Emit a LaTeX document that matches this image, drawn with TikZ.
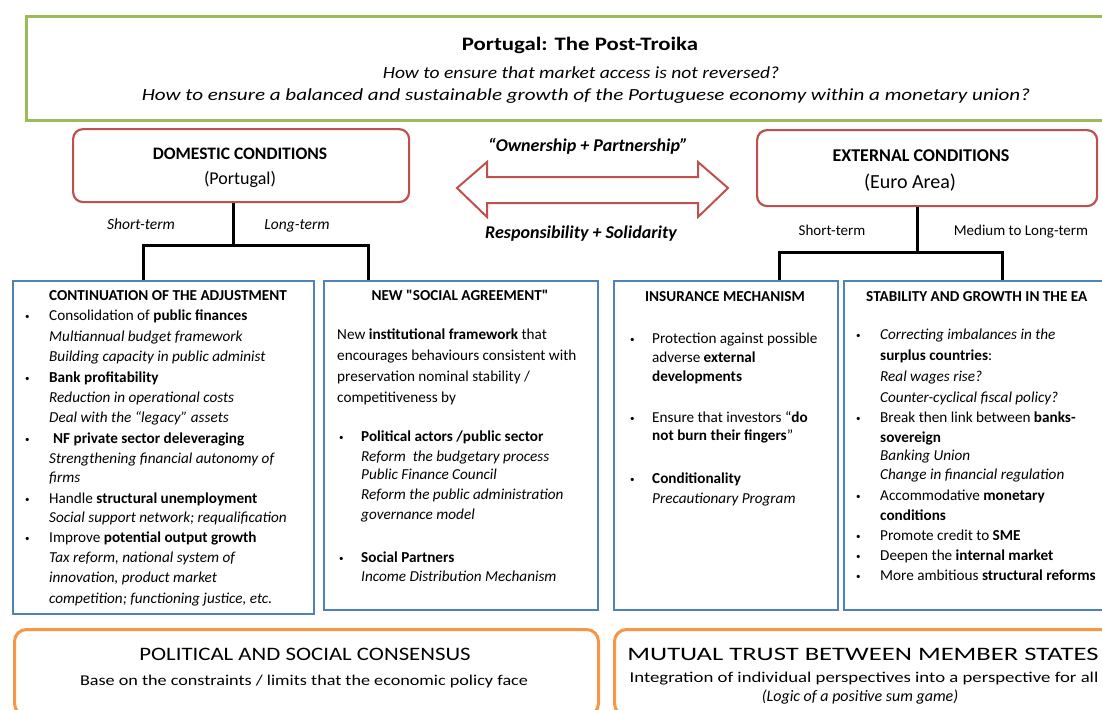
\documentclass[tikz,border=0pt]{standalone}
\usepackage{fontspec}
\setmainfont{Carlito}
\definecolor{cgreen}{HTML}{9BBB59}
\definecolor{cred}{HTML}{C0504D}
\definecolor{cblue}{HTML}{4F81BD}
\definecolor{corange}{HTML}{F79646}
\newcommand\mybul[1][24pt]{\makebox[#1][l]{\raisebox{0.5pt}{\small•}}}
\newcommand\hstretch[2]{\scalebox{#1}[1]{#2}}
\newcommand\straightq{{\addfontfeatures{Ligatures=TeXOff}\char34}}
\begin{document}
\begin{tikzpicture}[x=1pt,y=-1pt,
  greenbox/.style={draw=cgreen, line width=3pt, anchor=north west, inner sep=0},
  redbox/.style={draw=cred, line width=2.2pt, rounded corners=10pt, anchor=north west, inner sep=0},
  bluebox/.style={draw=cblue, line width=2.2pt, anchor=north west, inner sep=0},
  orangebox/.style={draw=corange, line width=3pt, rounded corners=12pt, anchor=north west, inner sep=0},
  conn/.style={draw=black, line width=3pt},
  tl/.style={anchor=base west, inner sep=0, font=\fontsize{15.2}{17}\selectfont},
  tc/.style={anchor=base, inner sep=0, font=\fontsize{15.2}{17}\selectfont},
  bigarrow/.style={draw=cred, line width=2pt, fill=white, line join=miter}
]
\useasboundingbox (0,0) rectangle (1102,709);
\clip (0,0) rectangle (1102,709);

% ---- boxes
\node[greenbox, minimum width=1090pt, minimum height=104pt] (top) at (25,15) {};
\node[redbox, minimum width=336pt, minimum height=73pt] (dom) at (72,128) {};
\node[redbox, minimum width=340pt, minimum height=76pt] (ext) at (756,129) {};
\node[bluebox, minimum width=301pt, minimum height=333pt] (b1) at (12,280) {};
\node[bluebox, minimum width=274pt, minimum height=329pt] (b2) at (323,280) {};
\node[bluebox, minimum width=224pt, minimum height=329pt] (b3) at (613,280) {};
\node[bluebox, minimum width=280pt, minimum height=329pt] (b4) at (843,280) {};
\node[orangebox, minimum width=584pt, minimum height=86pt] (o1) at (13,628) {};
\node[orangebox, minimum width=510pt, minimum height=86pt] (o2) at (613,628) {};

% ---- connectors
\coordinate (dj) at (233,245); \coordinate (dl) at (143,245); \coordinate (dr) at (368,245);
\draw[conn] (dom.south -| dj) -- (dj);
\draw[conn] (b1.north -| dl) -- (dl) -- (dr) -- (b2.north -| dr);
\coordinate (ej) at (917,252); \coordinate (el) at (779,252); \coordinate (er) at (1002,252);
\draw[conn] (ext.south -| ej) -- (ej);
\draw[conn] (b3.north -| el) -- (el) -- (er) -- (b4.north -| er);

% ---- double arrow
\draw[bigarrow] (457,188) -- (487,162) -- (487,177) -- (698,177) -- (698,162) -- (728,188)
  -- (698,217) -- (698,203) -- (487,203) -- (487,217) -- cycle;

% ---- top texts
\node[tc, font=\fontsize{19}{20}\selectfont\bfseries] (t1) at (580,51) {\hstretch{1.2}{Portugal: The Post-Troika}};
\node[tc, font=\fontsize{17}{20}\selectfont\itshape] (t2) at (581,78) {\hstretch{1.15}{How to ensure that market access is not reversed?}};
\node[tc, font=\fontsize{17}{20}\selectfont\itshape] (t3) at (586,100) {\hstretch{1.24}{How to ensure a balanced and sustainable growth of the Portuguese economy within a monetary union?}};

\node[tc, font=\fontsize{17.5}{18}\selectfont\bfseries] (d1) at (240,159) {DOMESTIC CONDITIONS};
\node[tc, font=\fontsize{18}{18}\selectfont] (d2) at (240,184) {(Portugal)};
\node[tc, font=\fontsize{18}{18}\selectfont\bfseries] (e1) at (921,161) {EXTERNAL CONDITIONS};
\node[tc, font=\fontsize{20}{20}\selectfont] (e2) at (910,188) {(Euro Area)};

\node[tc, font=\fontsize{15.5}{16}\selectfont\itshape] (s1) at (141,229) {Short-term};
\node[tc, font=\fontsize{15.5}{16}\selectfont\itshape] (s2) at (297,229) {Long-term};
\node[tc, font=\fontsize{15}{16}\selectfont] (s3) at (832,235) {Short-term};
\node[tc, font=\fontsize{15}{16}\selectfont] (s4) at (1021,235) {Medium to Long-term};

\node[tc, font=\fontsize{18}{18}\selectfont\bfseries\itshape] (a1) at (588,151) {“Ownership + Partnership”};
\node[tc, font=\fontsize{18}{18}\selectfont\bfseries\itshape] (a2) at (581,238) {Responsibility + Solidarity};

% ---- box 1
\node[tl, font=\fontsize{15.2}{17}\selectfont\bfseries] (b1t) at (49,300) {CONTINUATION OF THE ADJUSTMENT};
\node[tl] (b1a) at (25,320) {\mybul Consolidation of \textbf{public finances}};
\node[tl] (b1b) at (49,341) {\textit{Multiannual budget framework}};
\node[tl] (b1c) at (49,361) {\textit{Building capacity in public administ}};
\node[tl] (b1d) at (25,382) {\mybul\textbf{Bank profitability}};
\node[tl] (b1e) at (49,402) {\textit{Reduction in operational costs}};
\node[tl] (b1f) at (49,422) {\textit{Deal with the “legacy” assets}};
\node[tl] (b1g) at (25,443) {\mybul[28pt]\textbf{NF private sector deleveraging}};
\node[tl] (b1h) at (49,463) {\textit{Strengthening financial autonomy of}};
\node[tl] (b1i) at (49,482) {\textit{firms}};
\node[tl] (b1j) at (25,503) {\mybul Handle \textbf{structural unemployment}};
\node[tl] (b1k) at (49,522) {\textit{Social support network; requalification}};
\node[tl] (b1l) at (25,542) {\mybul Improve \textbf{potential output growth}};
\node[tl] (b1m) at (49,562) {\textit{Tax reform, national system of}};
\node[tl] (b1n) at (49,582) {\textit{innovation, product market}};
\node[tl] (b1o) at (49,603) {\textit{competition; functioning justice, etc.}};

% ---- box 2
\node[tc, font=\fontsize{15.2}{17}\selectfont\bfseries] (b2t) at (460,300) {NEW \straightq SOCIAL AGREEMENT\straightq};
\node[tl] (b2a) at (337,339) {New \textbf{institutional framework} that};
\node[tl] (b2b) at (337,360) {encourages behaviours consistent with};
\node[tl] (b2c) at (337,381) {preservation nominal stability /};
\node[tl] (b2d) at (337,402) {competitiveness by};
\node[tl] (b2e) at (339,441) {\mybul[22pt]\textbf{Political actors /public sector}};
\node[tl] (b2f) at (361,461) {\textit{Reform\ \ the budgetary process}};
\node[tl] (b2g) at (361,479) {\textit{Public Finance Council}};
\node[tl] (b2h) at (361,499) {\textit{Reform the public administration}};
\node[tl] (b2i) at (361,519) {\textit{governance model}};
\node[tl] (b2j) at (339,562) {\mybul[22pt]\textbf{Social Partners}};
\node[tl] (b2k) at (361,581) {\textit{Income Distribution Mechanism}};

% ---- box 3
\node[tc, font=\fontsize{15.2}{17}\selectfont\bfseries] (b3t) at (725,301) {INSURANCE MECHANISM};
\node[tl] (b3a) at (630,343) {\mybul[22pt]Protection against possible};
\node[tl] (b3b) at (652,362) {adverse \textbf{external}};
\node[tl] (b3c) at (652,381) {\textbf{developments}};
\node[tl] (b3d) at (630,422) {\mybul[22pt]Ensure that investors “\textbf{do}};
\node[tl] (b3e) at (652,440) {\textbf{not burn their fingers}”};
\node[tl] (b3f) at (630,483) {\mybul[22pt]\textbf{Conditionality}};
\node[tl] (b3g) at (652,503) {\textit{Precautionary Program}};

% ---- box 4
\node[tl, font=\fontsize{15.2}{17}\selectfont\bfseries] (b4t) at (866,301) {STABILITY AND GROWTH IN THE EA};
\node[tl] (b4a) at (856,339) {\mybul\textit{Correcting imbalances in the}};
\node[tl] (b4b) at (880,360) {\textbf{surplus countries}:};
\node[tl] (b4c) at (880,381) {\textit{Real wages rise?}};
\node[tl] (b4d) at (880,402) {\textit{Counter-cyclical fiscal policy?}};
\node[tl] (b4e) at (856,422) {\mybul Break then link between \textbf{banks-}};
\node[tl] (b4f) at (880,442) {\textbf{sovereign}};
\node[tl] (b4g) at (880,460) {\textit{Banking Union}};
\node[tl] (b4h) at (880,479) {\textit{Change in financial regulation}};
\node[tl] (b4i) at (856,500) {\mybul Accommodative \textbf{monetary}};
\node[tl] (b4j) at (880,520) {\textbf{conditions}};
\node[tl] (b4k) at (856,540) {\mybul Promote credit to \textbf{SME}};
\node[tl] (b4l) at (856,560) {\mybul Deepen the \textbf{internal market}};
\node[tl] (b4m) at (856,580) {\mybul More ambitious \textbf{structural reforms}};

% ---- bottom boxes
\node[tc, font=\fontsize{19}{20}\selectfont] (p1) at (305,660) {\hstretch{1.2}{POLITICAL AND SOCIAL CONSENSUS}};
\node[tc, font=\fontsize{15}{16}\selectfont] (p2) at (304,685) {\hstretch{1.21}{Base on the constraints / limits that the economic policy face}};
\node[tc, font=\fontsize{19}{20}\selectfont] (m1) at (863,660) {\hstretch{1.4}{MUTUAL TRUST BETWEEN MEMBER STATES}};
\node[tc, font=\fontsize{15}{16}\selectfont] (m2) at (864,682) {\hstretch{1.25}{Integration of individual perspectives into a perspective for all}};
\node[tc, font=\fontsize{16}{16}\selectfont\itshape] (m3) at (860,701) {(Logic of a positive sum game)};
\end{tikzpicture}
\end{document}
